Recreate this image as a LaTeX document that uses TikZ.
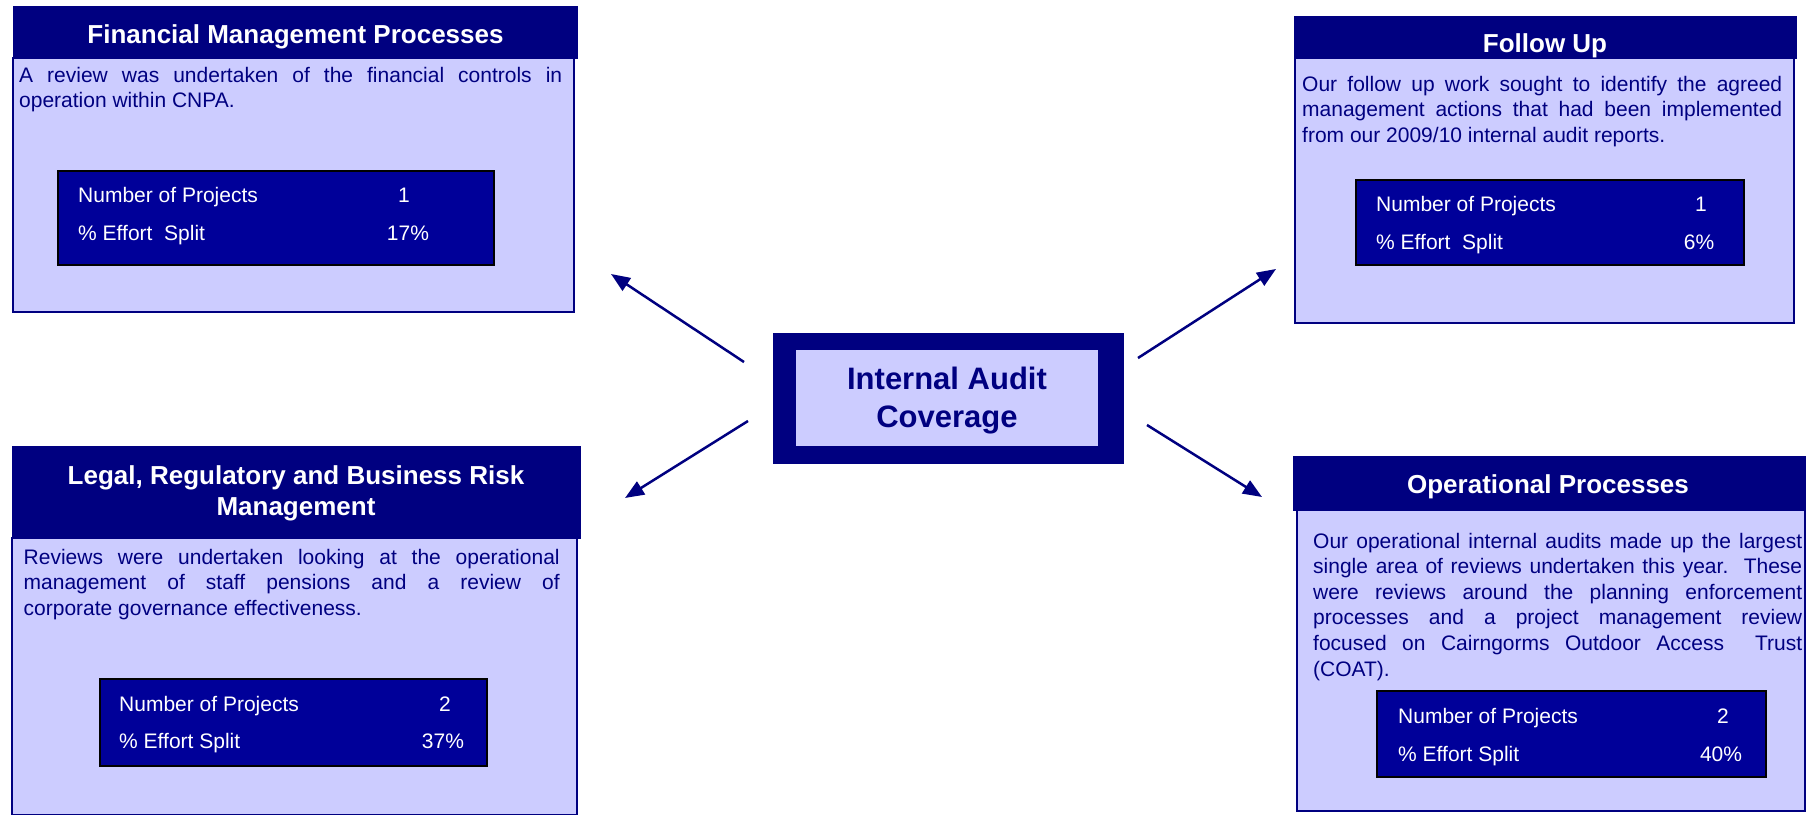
\documentclass[tikz,border=0pt]{standalone}
\usepackage{fontspec}
\setmainfont{Liberation Sans}
\usetikzlibrary{arrows.meta}
\definecolor{hdr}{HTML}{000080}
\definecolor{lightbody}{HTML}{CCCCFF}
\definecolor{statfill}{HTML}{000099}
\newcommand{\jline}[2]{\makebox[#1][s]{#2}}
\tikzset{
  box/.style={rectangle, inner sep=0pt, outer sep=0pt, anchor=north west},
  hdrbox/.style={box, fill=hdr, draw=none},
  bodybox/.style={box, fill=lightbody, draw=hdr, line width=2pt},
  statbox/.style={box, fill=statfill, draw=black, line width=2pt},
  centerouter/.style={box, fill=hdr, draw=none},
  centerinner/.style={box, fill=lightbody, draw=none},
  titletext/.style={text=white, font=\fontsize{26}{31}\selectfont\bfseries, inner sep=0pt, anchor=base},
  centertext/.style={text=hdr, font=\fontsize{31}{37}\selectfont\bfseries, inner sep=0pt, anchor=base},
  bodytext/.style={text=hdr, font=\fontsize{21}{25.5}\selectfont, inner sep=0pt, anchor=base west},
  stattext/.style={text=white, font=\fontsize{21}{25}\selectfont, inner sep=0pt, anchor=base west},
  statval/.style={text=white, font=\fontsize{21}{25}\selectfont, inner sep=0pt, anchor=base},
  arr/.style={draw=hdr, line width=2.5pt, -{Triangle[length=19pt,width=15pt]}},
}
\begin{document}
\begin{tikzpicture}[x=1pt,y=1pt]
\path[use as bounding box, fill=white] (0,0) rectangle (1807,-814);

% ---------- Financial Management Processes ----------
\node[bodybox, minimum width=561pt, minimum height=254pt] (finbody) at (13,-58) {};
\node[hdrbox, minimum width=565pt, minimum height=53pt] (finhdr) at (13,-6) {};
\node[titletext] (fintitle) at (295.5,-43) {Financial Management Processes};
\node[bodytext] (fintext) at (19,-82) {\parbox[t]{543pt}{\fontsize{21}{25}\selectfont
  \jline{543pt}{A review was undertaken of the financial controls in}\\
  operation within CNPA.}};
\node[statbox, minimum width=436pt, minimum height=94pt] (finstat) at (58,-171) {};
\node[stattext] (finrow1) at (78,-202) {Number of Projects};
\node[stattext] (finrow2) at (78,-240) {\% Effort~ Split};
\node[statval] (finval1) at (404,-202) {1};
\node[statval] (finval2) at (408,-240) {17\%};

% ---------- Follow Up ----------
\node[bodybox, minimum width=499pt, minimum height=265pt] (fubody) at (1295,-58) {};
\node[hdrbox, minimum width=503pt, minimum height=43pt] (fuhdr) at (1294,-16) {};
\node[titletext] (futitle) at (1545,-52) {Follow Up};
\node[bodytext] (futext) at (1302,-91) {\parbox[t]{480pt}{\fontsize{21}{25.5}\selectfont
  \jline{480pt}{Our follow up work sought to identify the agreed}\\
  \jline{480pt}{management actions that had been implemented}\\
  from our 2009/10 internal audit reports.}};
\node[statbox, minimum width=388pt, minimum height=85pt] (fustat) at (1356,-180) {};
\node[stattext] (furow1) at (1376,-211) {Number of Projects};
\node[stattext] (furow2) at (1376,-249) {\% Effort~ Split};
\node[statval] (fuval1) at (1701,-211) {1};
\node[statval] (fuval2) at (1699,-249) {6\%};

% ---------- Legal, Regulatory and Business Risk Management ----------
\node[bodybox, minimum width=565pt, minimum height=277pt] (legbody) at (12,-538) {};
\node[hdrbox, minimum width=569pt, minimum height=93pt] (leghdr) at (11.5,-446) {};
\node[titletext] (legtitle1) at (296,-484) {Legal, Regulatory and Business Risk};
\node[titletext] (legtitle2) at (296,-515) {Management};
\node[bodytext] (legtext) at (23.5,-564) {\parbox[t]{536pt}{\fontsize{21}{25.5}\selectfont
  \jline{536pt}{Reviews were undertaken looking at the operational}\\
  \jline{536pt}{management of staff pensions and a review of}\\
  corporate governance effectiveness.}};
\node[statbox, minimum width=387.5pt, minimum height=87pt] (legstat) at (99.5,-679) {};
\node[stattext] (legrow1) at (119,-711) {Number of Projects};
\node[stattext] (legrow2) at (119,-748) {\% Effort Split};
\node[statval] (legval1) at (445,-711) {2};
\node[statval] (legval2) at (443,-748) {37\%};

% ---------- Operational Processes ----------
\node[bodybox, minimum width=508pt, minimum height=301pt] (opbody) at (1297,-510) {};
\node[hdrbox, minimum width=513pt, minimum height=55pt] (ophdr) at (1293,-456) {};
\node[titletext] (optitle) at (1548,-493) {Operational Processes};
\node[bodytext] (optext) at (1313,-548) {\parbox[t]{489pt}{\fontsize{21}{25.6}\selectfont
  \jline{489pt}{Our operational internal audits made up the largest}\\
  \jline{489pt}{single area of reviews undertaken this year.\ \ These}\\
  \jline{489pt}{were reviews around the planning enforcement}\\
  \jline{489pt}{processes and a project management review}\\
  \jline{489pt}{focused on Cairngorms Outdoor Access\ \ Trust}\\
  (COAT).}};
\node[statbox, minimum width=389pt, minimum height=86pt] (opstat) at (1377,-691) {};
\node[stattext] (oprow1) at (1398,-723) {Number of Projects};
\node[stattext] (oprow2) at (1398,-761) {\% Effort Split};
\node[statval] (opval1) at (1723,-723) {2};
\node[statval] (opval2) at (1721,-761) {40\%};

% ---------- Centre ----------
\node[centerouter, minimum width=351pt, minimum height=131pt] (centerout) at (773,-333) {};
\node[centerinner, minimum width=302pt, minimum height=96pt] (centerin) at (796,-350) {};
\node[centertext] (centre1) at (947,-389) {Internal Audit};
\node[centertext] (centre2) at (947,-427) {Coverage};

% ---------- Arrows ----------
\coordinate (nwS) at (744,-362);
\coordinate (nwE) at (611,-274);
\coordinate (neS) at (1138,-358);
\coordinate (neE) at (1276,-269);
\coordinate (swS) at (748,-421);
\coordinate (swE) at (625,-498);
\coordinate (seS) at (1147,-425);
\coordinate (seE) at (1262,-497);
\draw[arr] (nwS) -- (nwE);
\draw[arr] (neS) -- (neE);
\draw[arr] (swS) -- (swE);
\draw[arr] (seS) -- (seE);
\end{tikzpicture}
\end{document}
